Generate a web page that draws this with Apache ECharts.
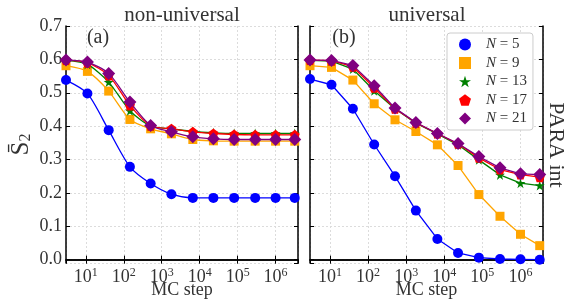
<!DOCTYPE html>
<html>
<head>
<meta charset="utf-8">
<script src="https://cdn.jsdelivr.net/npm/echarts@6/dist/echarts.min.js"></script>
<style>
  html, body { margin: 0; padding: 0; background: #fff; }
  #main { width: 583px; height: 300px; }
</style>
</head>
<body>
<div id="main"></div>
<script>
// MC steps (x positions of the samples)
var steps = [3, 11, 40, 145, 510, 1800, 6600, 23000, 81000, 290000, 1000000, 3200000];
var sizes = ['N = 5', 'N = 9', 'N = 13', 'N = 17', 'N = 21'];
var xTicks = [10, 100, 1000, 10000, 100000, 1000000];

// (a) non-universal
var nonUniN5  = [0.538, 0.498, 0.388, 0.278, 0.228, 0.196, 0.185, 0.185, 0.185, 0.185, 0.185, 0.185];
var nonUniN9  = [0.581, 0.564, 0.505, 0.420, 0.392, 0.377, 0.360, 0.356, 0.355, 0.355, 0.355, 0.355];
var nonUniN13 = [0.597, 0.585, 0.532, 0.446, 0.400, 0.392, 0.384, 0.380, 0.378, 0.378, 0.378, 0.378];
var nonUniN17 = [0.598, 0.590, 0.552, 0.462, 0.401, 0.392, 0.383, 0.378, 0.375, 0.374, 0.374, 0.374];
var nonUniN21 = [0.598, 0.592, 0.558, 0.472, 0.402, 0.383, 0.368, 0.362, 0.360, 0.360, 0.360, 0.360];

// (b) universal
var uniN5  = [0.541, 0.524, 0.452, 0.345, 0.250, 0.147, 0.062, 0.020, 0.006, 0.002, 0.001, 0.000];
var uniN9  = [0.581, 0.576, 0.538, 0.467, 0.419, 0.384, 0.344, 0.282, 0.195, 0.130, 0.076, 0.042];
var uniN13 = [0.597, 0.595, 0.571, 0.506, 0.452, 0.409, 0.377, 0.344, 0.299, 0.254, 0.229, 0.222];
var uniN17 = [0.598, 0.596, 0.578, 0.515, 0.452, 0.410, 0.378, 0.347, 0.305, 0.270, 0.255, 0.247];
var uniN21 = [0.598, 0.597, 0.582, 0.521, 0.454, 0.411, 0.378, 0.348, 0.309, 0.275, 0.257, 0.255];

var colors = ['#0000ff', '#ffa500', '#008000', '#ff0000', '#800080'];
var starPath = 'path://M50,0 L61.2,34.5 L97.6,34.5 L68.2,55.9 L79.4,90.5 L50,69.1 L20.6,90.5 L31.8,55.9 L2.4,34.5 L38.8,34.5 Z';
var pentPath = 'path://M50,0 L97.6,34.5 L79.4,90.5 L20.6,90.5 L2.4,34.5 Z';
var symbols = ['circle', 'rect', starPath, pentPath, 'diamond'];
var symSizes = [10, 9, 10, 10, 13];
var serif = 'Liberation Serif';
var textCol = '#333';

function makeSeries(values, k, g) {
  return {
    name: sizes[k],
    type: 'line',
    xAxisIndex: g,
    yAxisIndex: g,
    data: steps.map(function (s, i) { return [s, values[i]]; }),
    symbol: symbols[k],
    symbolSize: symSizes[k],
    smooth: g === 0 ? 0.25 : false,
    lineStyle: { color: colors[k], width: 1.3 },
    itemStyle: { color: colors[k] },
    z: 2 + k
  };
}

var frameLine = { show: true, lineStyle: { color: '#000', width: 1.5 } };
var gridLine = { show: true, lineStyle: { color: '#dcdcdc', width: 1, type: [2, 2] } };

function xAxisDef(g, top) {
  return {
    gridIndex: g,
    type: 'log',
    logBase: 10,
    min: 3,
    max: 3.9e6,
    position: top ? 'top' : 'bottom',
    axisLine: frameLine,
    axisTick: { show: true, inside: true, length: 4, lineStyle: { color: '#000' } },
    splitLine: top ? { show: false } : gridLine,
    axisLabel: top ? { show: false } : {
      show: true,
      showMinLabel: false,
      showMaxLabel: false,
      margin: 4,
      formatter: function (v) {
        var e = Math.round(Math.log10(v));
        if (xTicks.indexOf(Math.pow(10, e)) < 0) return '';
        return '{b|10}{s|' + e + '}';
      },
      rich: {
        b: { fontFamily: serif, fontSize: 18, color: textCol },
        s: { fontFamily: serif, fontSize: 12, color: textCol, verticalAlign: 'top', padding: [0, 0, 9, 0] }
      }
    },
    name: top ? '' : 'MC step',
    nameLocation: 'middle',
    nameGap: 18,
    nameMoveOverlap: false,
    nameTextStyle: { fontFamily: serif, fontSize: 18, color: textCol }
  };
}

function yAxisDef(g, right, labels) {
  return {
    gridIndex: g,
    type: 'value',
    min: -0.01,
    max: 0.7,
    splitNumber: 7,
    position: right ? 'right' : 'left',
    axisLine: frameLine,
    axisTick: { show: true, inside: true, length: 4, lineStyle: { color: '#000' } },
    splitLine: right ? { show: false } : gridLine,
    axisLabel: {
      show: labels,
      showMinLabel: false,
      margin: 4,
      fontFamily: serif,
      fontSize: 18,
      color: textCol,
      formatter: function (v) { return v < 0 ? '' : v.toFixed(1); }
    },
    name: labels ? '{a|S\u0304}{b|2}' : '',
    nameLocation: 'middle',
    nameRotate: 90,
    nameGap: 32,
    nameTextStyle: {
      rich: {
        a: { fontFamily: serif, fontSize: 25, color: textCol },
        b: { fontFamily: serif, fontSize: 16, color: textCol, verticalAlign: 'bottom', padding: [6, 0, 0, 0] }
      }
    }
  };
}

var series = [];
[nonUniN5, nonUniN9, nonUniN13, nonUniN17, nonUniN21].forEach(function (v, k) { series.push(makeSeries(v, k, 0)); });
[uniN5, uniN9, uniN13, uniN17, uniN21].forEach(function (v, k) { series.push(makeSeries(v, k, 1)); });

var chart = echarts.init(document.getElementById('main'));
chart.setOption({
  animation: false,
  backgroundColor: '#fff',
  grid: [
    { left: 66, right: 285, top: 26, bottom: 37, outerBoundsMode: 'none' },
    { left: 310, right: 40, top: 26, bottom: 37, outerBoundsMode: 'none' }
  ],
  xAxis: [xAxisDef(0, false), xAxisDef(1, false), xAxisDef(0, true), xAxisDef(1, true)],
  yAxis: [yAxisDef(0, false, true), yAxisDef(1, false, false), yAxisDef(0, true, false), yAxisDef(1, true, false)],
  legend: {
    orient: 'vertical',
    left: 447,
    top: 33,
    padding: [4, 6, 4, 12],
    itemWidth: 12,
    itemHeight: 12,
    itemGap: 3.5,
    backgroundColor: '#fff',
    borderColor: '#cccccc',
    borderWidth: 1,
    borderRadius: 3,
    data: sizes.map(function (s, k) { return { name: s, icon: symbols[k] }; }),
    formatter: function (name) { return '{i|N} = ' + name.split('= ')[1]; },
    textStyle: {
      fontFamily: serif,
      fontSize: 15,
      color: textCol,
      padding: [0, 0, 0, 10],
      rich: {
        i: { fontFamily: serif, fontSize: 15, fontStyle: 'italic', color: textCol }
      }
    }
  },
  graphic: [
    { type: 'text', x: 182, y: 15, style: { text: 'non-universal', fontFamily: serif, fontSize: 21, fill: textCol, align: 'center', verticalAlign: 'middle' } },
    { type: 'text', x: 427, y: 15, style: { text: 'universal', fontFamily: serif, fontSize: 21, fill: textCol, align: 'center', verticalAlign: 'middle' } },
    { type: 'text', x: 98, y: 38, style: { text: '(a)', fontFamily: serif, fontSize: 20, fill: textCol, align: 'center', verticalAlign: 'middle' } },
    { type: 'text', x: 344, y: 38, style: { text: '(b)', fontFamily: serif, fontSize: 20, fill: textCol, align: 'center', verticalAlign: 'middle' } },
    { type: 'text', x: 556, y: 145, rotation: -Math.PI / 2, style: { text: 'PARA int', fontFamily: serif, fontSize: 22, fill: textCol, align: 'center', verticalAlign: 'middle' } }
  ],
  series: series
});
</script>
</body>
</html>
